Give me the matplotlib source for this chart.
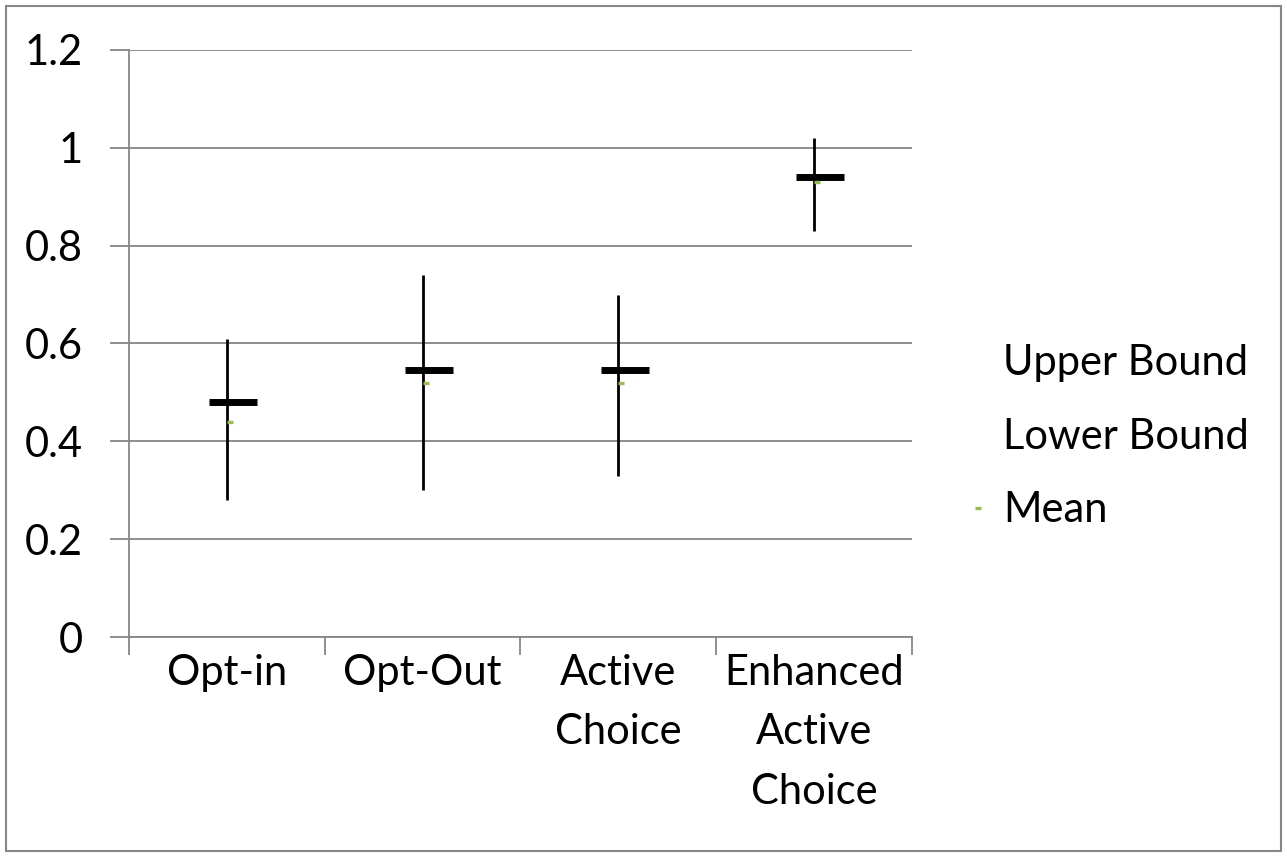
import numpy as np
import matplotlib.pyplot as plt
from matplotlib.lines import Line2D
from matplotlib.patches import Rectangle

plt.rcParams['font.family'] = ['Lato', 'DejaVu Sans']

categories = ['Opt-in', 'Opt-Out', 'Active\nChoice', 'Enhanced\nActive\nChoice']
upper_bound = [0.61, 0.74, 0.70, 1.02]
lower_bound = [0.28, 0.30, 0.33, 0.83]
point_est = [0.48, 0.545, 0.545, 0.94]
mean = [0.44, 0.52, 0.52, 0.93]
yticks = [0, 0.2, 0.4, 0.6, 0.8, 1, 1.2]
ytick_labels = ['0', '0.2', '0.4', '0.6', '0.8', '1', '1.2']

grid_col = '#868686'
green = '#9BBB59'

fig = plt.figure(figsize=(12.87, 8.57), dpi=100)
fig.patches.append(Rectangle((0.005, 0.007), 0.99, 0.986, transform=fig.transFigure,
                             fill=False, edgecolor=grid_col, linewidth=1.5))
ax = fig.add_axes([0.1002, 0.2567, 0.6084, 0.685])

x = np.arange(len(categories))
ax.vlines(x, lower_bound, upper_bound, color='black', linewidth=2, zorder=3)
ax.hlines(point_est, x - 0.09, x + 0.155, color='black', linewidth=5, zorder=4)
ax.plot(x + 0.015, mean, linestyle='none', marker='_', markersize=4.5,
        color=green, markeredgewidth=2.4, zorder=5)

ax.set_xlim(-0.5, len(categories) - 0.5)
ax.set_ylim(0, 1.2)
ax.set_yticks(yticks)
ax.set_yticklabels(ytick_labels, fontsize=30)
ax.set_xticks(np.arange(len(categories) + 1) - 0.5)
ax.set_xticklabels([])
ax.set_xticks(x, categories, minor=True, fontsize=30, linespacing=1.7)
ax.tick_params(axis='x', which='minor', length=0, pad=12)
ax.tick_params(axis='x', which='major', length=13, color=grid_col, width=1.3)
ax.tick_params(axis='y', length=14, color=grid_col, width=1.3, pad=19)
ax.grid(axis='y', color=grid_col, linewidth=1.3)
ax.set_axisbelow(True)
for s in ['top', 'right']:
    ax.spines[s].set_visible(False)
for s in ['left', 'bottom']:
    ax.spines[s].set_color(grid_col)
    ax.spines[s].set_linewidth(1.3)

handles = [Line2D([], [], linestyle='none', marker='none'),
           Line2D([], [], linestyle='none', marker='none'),
           Line2D([], [], linestyle='none', marker='_', markersize=4.5,
                  color=green, markeredgewidth=2.4)]
ax.legend(handles, ['Upper Bound', 'Lower Bound', 'Mean'], loc='center left',
          bbox_to_anchor=(1.026, 0.341), frameon=False, fontsize=30,
          handlelength=0.4, handletextpad=0.4, labelspacing=0.85)

fig.savefig('out.png', dpi=100)
